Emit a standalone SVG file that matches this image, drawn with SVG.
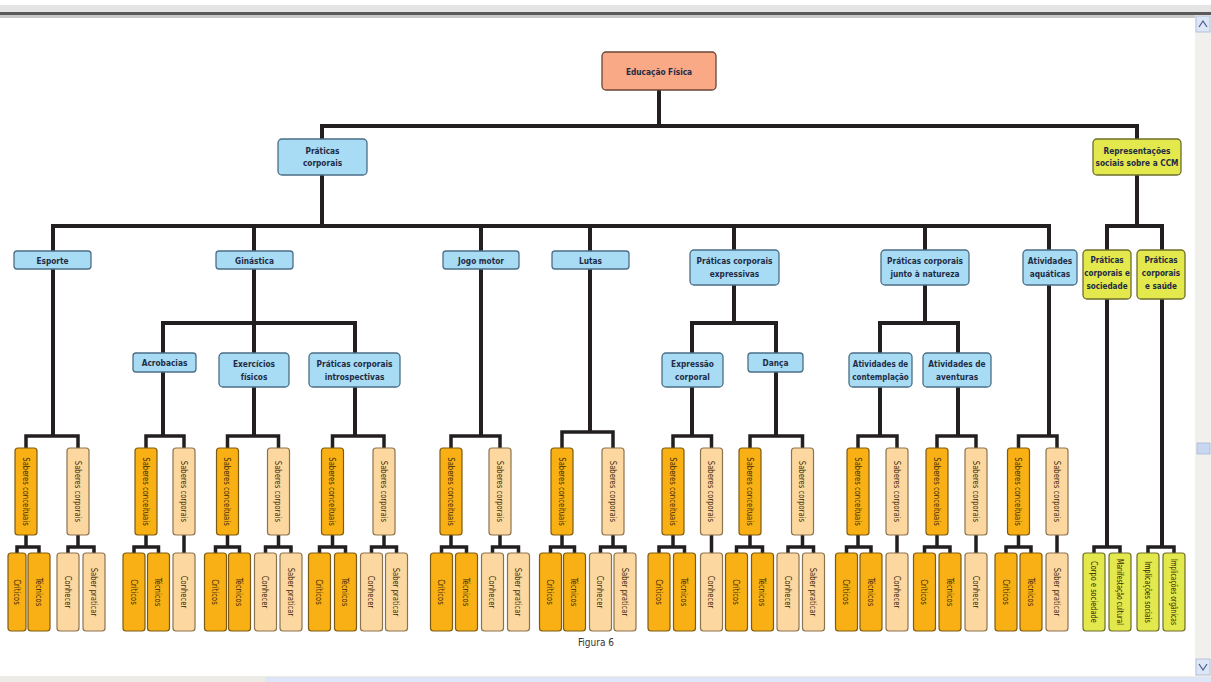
<svg xmlns="http://www.w3.org/2000/svg" width="1211" height="682" viewBox="0 0 1211 682">
<style>
.c{stroke:#231F20;stroke-width:4;fill:none;stroke-linejoin:miter}
.cs{stroke:#231F20;stroke-width:3.5;fill:none;stroke-linejoin:miter}
.b{stroke-width:1.3}
.blue{fill:#A8DCF4;stroke:#4B6E86}
.sal{fill:#F9A985;stroke:#6B4536}
.yel{fill:#E3E84C;stroke:#6E6E2A}
.dk{fill:#F8B014;stroke:#7D5B12;stroke-width:1.2}
.lt{fill:#FCD8A0;stroke:#8C7350;stroke-width:1.2}
.yl{fill:#E3E84C;stroke:#6E6E2A;stroke-width:1.2}
text{font-family:"DejaVu Sans Condensed","Liberation Sans",sans-serif;text-anchor:middle}
.t{font-size:9.5px;fill:#1F2B45;font-weight:bold}
.v{font-size:9.5px;fill:#3B2A0A;dominant-baseline:central}
</style>
<rect width="1211" height="682" fill="#FFFFFF"/>
<!-- window chrome -->
<rect x="0" y="5" width="1211" height="8" fill="#E4E4E4"/>
<rect x="0" y="12" width="1211" height="3" fill="#5A5A5A"/>
<rect x="0" y="15" width="1211" height="3" fill="#C8C8C8"/>
<rect x="1195" y="15" width="16" height="662" fill="#F1F0EC"/>
<rect x="1196" y="16" width="14" height="16" fill="#DCE6F7" stroke="#A8B8D8" stroke-width="0.8"/>
<path d="M1199,27 L1203,21 L1207,27" fill="none" stroke="#4A5A8A" stroke-width="1.2"/>
<rect x="1197" y="443" width="13" height="11" fill="#C9D6F2" stroke="#A8B8D8" stroke-width="0.8"/>
<rect x="1196" y="659" width="14" height="16" fill="#DCE6F7" stroke="#A8B8D8" stroke-width="0.8"/>
<path d="M1199,664 L1203,670 L1207,664" fill="none" stroke="#4A5A8A" stroke-width="1.2"/>
<rect x="0" y="676" width="1211" height="6" fill="#ECEBE6"/>
<rect x="265" y="677" width="1130" height="5" fill="#DCE6F7"/>

<g id="connectors">
<path class="c" d="M659,90 V126 M320,126 H1139 M322,126 V139 M1137,126 V139"/>
<path class="c" d="M322,175 V226 M51,226 H1051 M53,226 V251 M254,226 V251 M481,226 V251 M590,226 V251 M734,226 V250 M925,226 V250 M1049,226 V250"/>
<path class="c" d="M1137,175 V226 M1105,226 H1164 M1107,226 V250 M1162,226 V250"/>
<path class="c" d="M254,269 V323 M161,323 H357 M163,323 V353 M254,323 V353 M355,323 V353"/>
<path class="c" d="M734,285 V323 M690,323 H778 M692,323 V353 M776,323 V353"/>
<path class="c" d="M925,285 V323 M878,323 H960 M880,323 V353 M958,323 V353"/>
<path class="c" d="M53,269 V436 M163,372 V436 M254,387 V436 M355,387 V436 M481,269 V436 M590,269 V432 M692,387 V436 M776,372 V436 M880,387 V436 M958,387 V436 M1049,285 V436"/>
<path class="c" d="M1107,299 V547 M1162,299 V547"/>
<path class="cs" d="M26,448 V436 H78 V448 M146,448 V436 H184 V448 M227.5,448 V436 H278.5 V448 M332.5,448 V436 H384 V448 M451,448 V436 H500 V448 M562,448 V432 H613 V448 M673,448 V436 H711.5 V448 M750,448 V436 H802.5 V448 M858,448 V436 H897 V448 M937,448 V436 H976 V448 M1018.5,448 V436 H1057 V448"/>
<path class="cs" d="M26,535 V547 M17,553 V547 H39 V553 M78,535 V547 M68,553 V547 H94 V553"/>
<path class="cs" d="M146,535 V547 M134,553 V547 H158.5 V553 M184,535 V553"/>
<path class="cs" d="M227.5,535 V547 M215.5,553 V547 H239.5 V553 M278.5,535 V547 M265.5,553 V547 H291 V553"/>
<path class="cs" d="M332.5,535 V547 M319.5,553 V547 H345.5 V553 M384,535 V547 M371.5,553 V547 H396.5 V553"/>
<path class="cs" d="M451,535 V547 M441.5,553 V547 H466.5 V553 M500,535 V547 M492.5,553 V547 H518.5 V553"/>
<path class="cs" d="M562,535 V547 M550.5,553 V547 H574.5 V553 M613,535 V547 M600.5,553 V547 H625 V553"/>
<path class="cs" d="M673,535 V547 M659,553 V547 H684.5 V553 M711.5,535 V553"/>
<path class="cs" d="M750,535 V547 M736.5,553 V547 H762.5 V553 M802.5,535 V547 M788,553 V547 H813.5 V553"/>
<path class="cs" d="M858,535 V547 M846.5,553 V547 H871 V553 M897,535 V553"/>
<path class="cs" d="M937,535 V547 M924.5,553 V547 H950 V553 M976,535 V553"/>
<path class="cs" d="M1018.5,535 V547 M1006,553 V547 H1031 V553 M1057,535 V553"/>
<path class="cs" d="M1094,553 V547 H1120 V553 M1148,553 V547 H1174 V553"/>
</g>

<g id="n-root"><rect class="sal b" x="602" y="52" width="114" height="38" rx="4"/><text class="t" transform="translate(659,75) scale(0.87,1)">Educação Física</text></g>
<g id="n-praticas"><rect class="blue b" x="278" y="139" width="89" height="36" rx="4"/><text class="t" transform="translate(322.5,154) scale(0.87,1)">Práticas</text><text class="t" transform="translate(322.5,166) scale(0.87,1)">corporais</text></g>
<g id="n-repr"><rect class="yel b" x="1093" y="139" width="88" height="36" rx="4"/><text class="t" transform="translate(1137,154) scale(0.87,1)">Representações</text><text class="t" transform="translate(1137,166) scale(0.87,1)">sociais sobre a CCM</text></g>

<g id="n-esporte"><rect class="blue b" x="14" y="251" width="77" height="18" rx="3"/><text class="t" transform="translate(52.5,263.5) scale(0.87,1)">Esporte</text></g>
<g id="n-ginastica"><rect class="blue b" x="216" y="251" width="77" height="18" rx="3"/><text class="t" transform="translate(254.5,263.5) scale(0.87,1)">Ginástica</text></g>
<g id="n-jogo"><rect class="blue b" x="443" y="251" width="76" height="18" rx="3"/><text class="t" transform="translate(481,263.5) scale(0.87,1)">Jogo motor</text></g>
<g id="n-lutas"><rect class="blue b" x="552" y="251" width="77" height="18" rx="3"/><text class="t" transform="translate(590.5,263.5) scale(0.87,1)">Lutas</text></g>
<g id="n-expressivas"><rect class="blue b" x="690" y="250" width="89" height="35" rx="4"/><text class="t" transform="translate(734.5,264) scale(0.87,1)">Práticas corporais</text><text class="t" transform="translate(734.5,277) scale(0.87,1)">expressivas</text></g>
<g id="n-natureza"><rect class="blue b" x="881" y="250" width="88" height="35" rx="4"/><text class="t" transform="translate(925,264) scale(0.87,1)">Práticas corporais</text><text class="t" transform="translate(925,277) scale(0.87,1)">junto à natureza</text></g>
<g id="n-aquaticas"><rect class="blue b" x="1023" y="250" width="54" height="35" rx="4"/><text class="t" transform="translate(1050,264) scale(0.87,1)">Atividades</text><text class="t" transform="translate(1050,277) scale(0.87,1)">aquáticas</text></g>
<g id="n-sociedade"><rect class="yel b" x="1083" y="250" width="48" height="49" rx="4"/><text class="t" transform="translate(1107,263) scale(0.85,1)">Práticas</text><text class="t" transform="translate(1107,276) scale(0.85,1)">corporais e</text><text class="t" transform="translate(1107,289) scale(0.85,1)">sociedade</text></g>
<g id="n-saude"><rect class="yel b" x="1137" y="250" width="48" height="49" rx="4"/><text class="t" transform="translate(1161,263) scale(0.85,1)">Práticas</text><text class="t" transform="translate(1161,276) scale(0.85,1)">corporais</text><text class="t" transform="translate(1161,289) scale(0.85,1)">e saúde</text></g>

<g id="n-acrobacias"><rect class="blue b" x="133" y="353" width="63" height="19" rx="3"/><text class="t" transform="translate(164.5,366) scale(0.87,1)">Acrobacias</text></g>
<g id="n-exercicios"><rect class="blue b" x="219" y="353" width="70" height="34" rx="4"/><text class="t" transform="translate(254,367) scale(0.87,1)">Exercícios</text><text class="t" transform="translate(254,380) scale(0.87,1)">físicos</text></g>
<g id="n-introspectivas"><rect class="blue b" x="309" y="353" width="91" height="34" rx="4"/><text class="t" transform="translate(354.5,367) scale(0.87,1)">Práticas corporais</text><text class="t" transform="translate(354.5,380) scale(0.87,1)">introspectivas</text></g>
<g id="n-expressao"><rect class="blue b" x="662" y="353" width="61" height="34" rx="4"/><text class="t" transform="translate(692.5,367) scale(0.87,1)">Expressão</text><text class="t" transform="translate(692.5,380) scale(0.87,1)">corporal</text></g>
<g id="n-danca"><rect class="blue b" x="748" y="353" width="55" height="19" rx="3"/><text class="t" transform="translate(775.5,366) scale(0.87,1)">Dança</text></g>
<g id="n-contemplacao"><rect class="blue b" x="849" y="353" width="63" height="34" rx="4"/><text class="t" transform="translate(880.5,367) scale(0.84,1)">Atividades de</text><text class="t" transform="translate(880.5,380) scale(0.84,1)">contemplação</text></g>
<g id="n-aventuras"><rect class="blue b" x="923" y="353" width="68" height="34" rx="4"/><text class="t" transform="translate(957,367) scale(0.87,1)">Atividades de</text><text class="t" transform="translate(957,380) scale(0.87,1)">aventuras</text></g>

<g id="n-g1-sc"><rect class="dk" x="15" y="448" width="22" height="87" rx="3"/><text class="v" transform="translate(26,491.5) rotate(90) scale(0.8,1)">Saberes conceituais</text></g>
<g id="n-g1-sp"><rect class="lt" x="67" y="448" width="22" height="87" rx="3"/><text class="v" transform="translate(78,491.5) rotate(90) scale(0.8,1)">Saberes corporais</text></g>
<g id="n-g2-sc"><rect class="dk" x="135" y="448" width="22" height="87" rx="3"/><text class="v" transform="translate(146,491.5) rotate(90) scale(0.8,1)">Saberes conceituais</text></g>
<g id="n-g2-sp"><rect class="lt" x="173" y="448" width="22" height="87" rx="3"/><text class="v" transform="translate(184,491.5) rotate(90) scale(0.8,1)">Saberes corporais</text></g>
<g id="n-g3-sc"><rect class="dk" x="216.5" y="448" width="22" height="87" rx="3"/><text class="v" transform="translate(227.5,491.5) rotate(90) scale(0.8,1)">Saberes conceituais</text></g>
<g id="n-g3-sp"><rect class="lt" x="267.5" y="448" width="22" height="87" rx="3"/><text class="v" transform="translate(278.5,491.5) rotate(90) scale(0.8,1)">Saberes corporais</text></g>
<g id="n-g4-sc"><rect class="dk" x="321.5" y="448" width="22" height="87" rx="3"/><text class="v" transform="translate(332.5,491.5) rotate(90) scale(0.8,1)">Saberes conceituais</text></g>
<g id="n-g4-sp"><rect class="lt" x="373" y="448" width="22" height="87" rx="3"/><text class="v" transform="translate(384,491.5) rotate(90) scale(0.8,1)">Saberes corporais</text></g>
<g id="n-g5-sc"><rect class="dk" x="440" y="448" width="22" height="87" rx="3"/><text class="v" transform="translate(451,491.5) rotate(90) scale(0.8,1)">Saberes conceituais</text></g>
<g id="n-g5-sp"><rect class="lt" x="489" y="448" width="22" height="87" rx="3"/><text class="v" transform="translate(500,491.5) rotate(90) scale(0.8,1)">Saberes corporais</text></g>
<g id="n-g6-sc"><rect class="dk" x="551" y="448" width="22" height="87" rx="3"/><text class="v" transform="translate(562,491.5) rotate(90) scale(0.8,1)">Saberes conceituais</text></g>
<g id="n-g6-sp"><rect class="lt" x="602" y="448" width="22" height="87" rx="3"/><text class="v" transform="translate(613,491.5) rotate(90) scale(0.8,1)">Saberes corporais</text></g>
<g id="n-g7-sc"><rect class="dk" x="662" y="448" width="22" height="87" rx="3"/><text class="v" transform="translate(673,491.5) rotate(90) scale(0.8,1)">Saberes conceituais</text></g>
<g id="n-g7-sp"><rect class="lt" x="700.5" y="448" width="22" height="87" rx="3"/><text class="v" transform="translate(711.5,491.5) rotate(90) scale(0.8,1)">Saberes corporais</text></g>
<g id="n-g8-sc"><rect class="dk" x="739" y="448" width="22" height="87" rx="3"/><text class="v" transform="translate(750,491.5) rotate(90) scale(0.8,1)">Saberes conceituais</text></g>
<g id="n-g8-sp"><rect class="lt" x="791.5" y="448" width="22" height="87" rx="3"/><text class="v" transform="translate(802.5,491.5) rotate(90) scale(0.8,1)">Saberes corporais</text></g>
<g id="n-g9-sc"><rect class="dk" x="847" y="448" width="22" height="87" rx="3"/><text class="v" transform="translate(858,491.5) rotate(90) scale(0.8,1)">Saberes conceituais</text></g>
<g id="n-g9-sp"><rect class="lt" x="886" y="448" width="22" height="87" rx="3"/><text class="v" transform="translate(897,491.5) rotate(90) scale(0.8,1)">Saberes corporais</text></g>
<g id="n-g10-sc"><rect class="dk" x="926" y="448" width="22" height="87" rx="3"/><text class="v" transform="translate(937,491.5) rotate(90) scale(0.8,1)">Saberes conceituais</text></g>
<g id="n-g10-sp"><rect class="lt" x="965" y="448" width="22" height="87" rx="3"/><text class="v" transform="translate(976,491.5) rotate(90) scale(0.8,1)">Saberes corporais</text></g>
<g id="n-g11-sc"><rect class="dk" x="1007.5" y="448" width="22" height="87" rx="3"/><text class="v" transform="translate(1018.5,491.5) rotate(90) scale(0.8,1)">Saberes conceituais</text></g>
<g id="n-g11-sp"><rect class="lt" x="1046" y="448" width="22" height="87" rx="3"/><text class="v" transform="translate(1057,491.5) rotate(90) scale(0.8,1)">Saberes corporais</text></g>

<g id="n-l1a"><rect class="dk" x="8" y="553" width="18" height="78" rx="3"/><text class="v" transform="translate(17,592) rotate(90) scale(0.8,1)">Críticos</text></g>
<g id="n-l1b"><rect class="dk" x="28" y="553" width="22" height="78" rx="3"/><text class="v" transform="translate(39,592) rotate(90) scale(0.8,1)">Técnicos</text></g>
<g id="n-l1c"><rect class="lt" x="57" y="553" width="22" height="78" rx="3"/><text class="v" transform="translate(68,592) rotate(90) scale(0.8,1)">Conhecer</text></g>
<g id="n-l1d"><rect class="lt" x="83" y="553" width="22" height="78" rx="3"/><text class="v" transform="translate(94,592) rotate(90) scale(0.8,1)">Saber praticar</text></g>

<g id="n-l2a"><rect class="dk" x="123" y="553" width="22" height="78" rx="3"/><text class="v" transform="translate(134,592) rotate(90) scale(0.8,1)">Críticos</text></g>
<g id="n-l2b"><rect class="dk" x="147.5" y="553" width="22" height="78" rx="3"/><text class="v" transform="translate(158.5,592) rotate(90) scale(0.8,1)">Técnicos</text></g>
<g id="n-l2c"><rect class="lt" x="173" y="553" width="22" height="78" rx="3"/><text class="v" transform="translate(184,592) rotate(90) scale(0.8,1)">Conhecer</text></g>

<g id="n-l3a"><rect class="dk" x="204.5" y="553" width="22" height="78" rx="3"/><text class="v" transform="translate(215.5,592) rotate(90) scale(0.8,1)">Críticos</text></g>
<g id="n-l3b"><rect class="dk" x="228.5" y="553" width="22" height="78" rx="3"/><text class="v" transform="translate(239.5,592) rotate(90) scale(0.8,1)">Técnicos</text></g>
<g id="n-l3c"><rect class="lt" x="254.5" y="553" width="22" height="78" rx="3"/><text class="v" transform="translate(265.5,592) rotate(90) scale(0.8,1)">Conhecer</text></g>
<g id="n-l3d"><rect class="lt" x="280" y="553" width="22" height="78" rx="3"/><text class="v" transform="translate(291,592) rotate(90) scale(0.8,1)">Saber praticar</text></g>

<g id="n-l4a"><rect class="dk" x="308.5" y="553" width="22" height="78" rx="3"/><text class="v" transform="translate(319.5,592) rotate(90) scale(0.8,1)">Críticos</text></g>
<g id="n-l4b"><rect class="dk" x="334.5" y="553" width="22" height="78" rx="3"/><text class="v" transform="translate(345.5,592) rotate(90) scale(0.8,1)">Técnicos</text></g>
<g id="n-l4c"><rect class="lt" x="360.5" y="553" width="22" height="78" rx="3"/><text class="v" transform="translate(371.5,592) rotate(90) scale(0.8,1)">Conhecer</text></g>
<g id="n-l4d"><rect class="lt" x="385.5" y="553" width="22" height="78" rx="3"/><text class="v" transform="translate(396.5,592) rotate(90) scale(0.8,1)">Saber praticar</text></g>

<g id="n-l5a"><rect class="dk" x="430.5" y="553" width="22" height="78" rx="3"/><text class="v" transform="translate(441.5,592) rotate(90) scale(0.8,1)">Críticos</text></g>
<g id="n-l5b"><rect class="dk" x="455.5" y="553" width="22" height="78" rx="3"/><text class="v" transform="translate(466.5,592) rotate(90) scale(0.8,1)">Técnicos</text></g>
<g id="n-l5c"><rect class="lt" x="481.5" y="553" width="22" height="78" rx="3"/><text class="v" transform="translate(492.5,592) rotate(90) scale(0.8,1)">Conhecer</text></g>
<g id="n-l5d"><rect class="lt" x="507.5" y="553" width="22" height="78" rx="3"/><text class="v" transform="translate(518.5,592) rotate(90) scale(0.8,1)">Saber praticar</text></g>

<g id="n-l6a"><rect class="dk" x="539.5" y="553" width="22" height="78" rx="3"/><text class="v" transform="translate(550.5,592) rotate(90) scale(0.8,1)">Críticos</text></g>
<g id="n-l6b"><rect class="dk" x="563.5" y="553" width="22" height="78" rx="3"/><text class="v" transform="translate(574.5,592) rotate(90) scale(0.8,1)">Técnicos</text></g>
<g id="n-l6c"><rect class="lt" x="589.5" y="553" width="22" height="78" rx="3"/><text class="v" transform="translate(600.5,592) rotate(90) scale(0.8,1)">Conhecer</text></g>
<g id="n-l6d"><rect class="lt" x="614" y="553" width="22" height="78" rx="3"/><text class="v" transform="translate(625,592) rotate(90) scale(0.8,1)">Saber praticar</text></g>

<g id="n-l7a"><rect class="dk" x="648" y="553" width="22" height="78" rx="3"/><text class="v" transform="translate(659,592) rotate(90) scale(0.8,1)">Críticos</text></g>
<g id="n-l7b"><rect class="dk" x="673.5" y="553" width="22" height="78" rx="3"/><text class="v" transform="translate(684.5,592) rotate(90) scale(0.8,1)">Técnicos</text></g>
<g id="n-l7c"><rect class="lt" x="700.5" y="553" width="22" height="78" rx="3"/><text class="v" transform="translate(711.5,592) rotate(90) scale(0.8,1)">Conhecer</text></g>

<g id="n-l8a"><rect class="dk" x="725.5" y="553" width="22" height="78" rx="3"/><text class="v" transform="translate(736.5,592) rotate(90) scale(0.8,1)">Críticos</text></g>
<g id="n-l8b"><rect class="dk" x="751.5" y="553" width="22" height="78" rx="3"/><text class="v" transform="translate(762.5,592) rotate(90) scale(0.8,1)">Técnicos</text></g>
<g id="n-l8c"><rect class="lt" x="777" y="553" width="22" height="78" rx="3"/><text class="v" transform="translate(788,592) rotate(90) scale(0.8,1)">Conhecer</text></g>
<g id="n-l8d"><rect class="lt" x="802.5" y="553" width="22" height="78" rx="3"/><text class="v" transform="translate(813.5,592) rotate(90) scale(0.8,1)">Saber praticar</text></g>

<g id="n-l9a"><rect class="dk" x="835.5" y="553" width="22" height="78" rx="3"/><text class="v" transform="translate(846.5,592) rotate(90) scale(0.8,1)">Críticos</text></g>
<g id="n-l9b"><rect class="dk" x="860" y="553" width="22" height="78" rx="3"/><text class="v" transform="translate(871,592) rotate(90) scale(0.8,1)">Técnicos</text></g>
<g id="n-l9c"><rect class="lt" x="886" y="553" width="22" height="78" rx="3"/><text class="v" transform="translate(897,592) rotate(90) scale(0.8,1)">Conhecer</text></g>

<g id="n-l10a"><rect class="dk" x="913.5" y="553" width="22" height="78" rx="3"/><text class="v" transform="translate(924.5,592) rotate(90) scale(0.8,1)">Críticos</text></g>
<g id="n-l10b"><rect class="dk" x="939" y="553" width="22" height="78" rx="3"/><text class="v" transform="translate(950,592) rotate(90) scale(0.8,1)">Técnicos</text></g>
<g id="n-l10c"><rect class="lt" x="965" y="553" width="22" height="78" rx="3"/><text class="v" transform="translate(976,592) rotate(90) scale(0.8,1)">Conhecer</text></g>

<g id="n-l11a"><rect class="dk" x="995" y="553" width="22" height="78" rx="3"/><text class="v" transform="translate(1006,592) rotate(90) scale(0.8,1)">Críticos</text></g>
<g id="n-l11b"><rect class="dk" x="1020" y="553" width="22" height="78" rx="3"/><text class="v" transform="translate(1031,592) rotate(90) scale(0.8,1)">Técnicos</text></g>
<g id="n-l11c"><rect class="lt" x="1046" y="553" width="22" height="78" rx="3"/><text class="v" transform="translate(1057,592) rotate(90) scale(0.8,1)">Saber praticar</text></g>

<g id="n-l12a"><rect class="yl" x="1083" y="553" width="22" height="78" rx="3"/><text class="v" transform="translate(1094,592) rotate(90) scale(0.78,1)">Corpo e sociedade</text></g>
<g id="n-l12b"><rect class="yl" x="1109" y="553" width="22" height="78" rx="3"/><text class="v" transform="translate(1120,592) rotate(90) scale(0.72,1)">Manifestação cultural</text></g>
<g id="n-l13a"><rect class="yl" x="1137" y="553" width="22" height="78" rx="3"/><text class="v" transform="translate(1148,592) rotate(90) scale(0.75,1)">Implicações sociais</text></g>
<g id="n-l13b"><rect class="yl" x="1163" y="553" width="22" height="78" rx="3"/><text class="v" transform="translate(1174,592) rotate(90) scale(0.7,1)">Implicações orgânicas</text></g>

<text x="596" y="646" style="font-size:10px;fill:#333333">Figura 6</text>
</svg>
